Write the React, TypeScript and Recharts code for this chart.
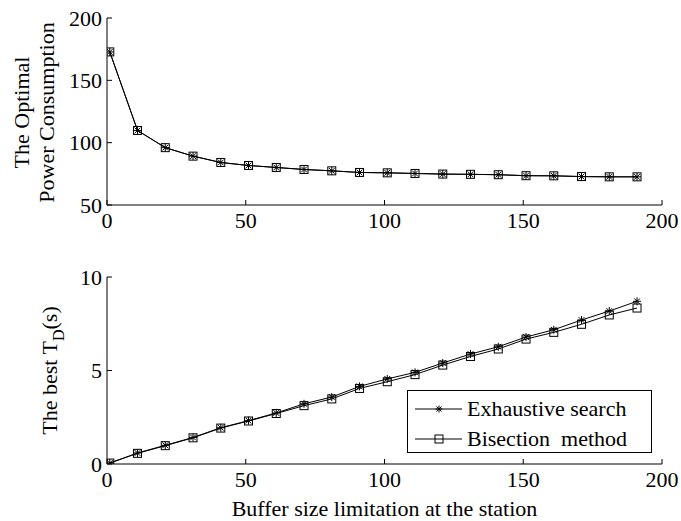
import React from 'react';
import { LineChart, Line, XAxis, YAxis, Legend, Label } from 'recharts';

// Buffer size limitation at the station (x values of the sampled points)
const bufferSizes = [1, 11, 21, 31, 41, 51, 61, 71, 81, 91, 101, 111, 121, 131, 141, 151, 161, 171, 181, 191];

// Optimal power consumption
const powerExhaustive = [172.8, 109.8, 96.0, 89.2, 84.1, 81.7, 80.1, 78.5, 77.4, 76.1, 75.8, 75.3, 74.8, 74.6, 74.3, 73.5, 73.4, 72.8, 72.6, 72.6];
const powerBisection = [172.8, 109.8, 96.0, 89.2, 84.1, 81.7, 80.1, 78.5, 77.4, 76.1, 75.8, 75.3, 74.8, 74.6, 74.3, 73.5, 73.4, 72.8, 72.6, 72.6];

// Best T_D in seconds
const delayExhaustive = [0.05, 0.59, 1.0, 1.42, 1.94, 2.32, 2.73, 3.22, 3.58, 4.15, 4.55, 4.9, 5.4, 5.88, 6.27, 6.79, 7.18, 7.7, 8.18, 8.7];
const delayBisection = [0.05, 0.57, 0.98, 1.4, 1.92, 2.3, 2.7, 3.12, 3.48, 4.04, 4.4, 4.78, 5.29, 5.75, 6.15, 6.68, 7.04, 7.47, 7.97, 8.34];

const xTicks = [0, 50, 100, 150, 200];
const powerTicks = [50, 100, 150, 200];
const delayTicks = [0, 5, 10];

const seriesNames = ['Exhaustive search', 'Bisection  method'];
const xLabel = 'Buffer size limitation at the station';

const powerData = bufferSizes.map((x, i) => ({ x, exhaustive: powerExhaustive[i], bisection: powerBisection[i] }));
const delayData = bufferSizes.map((x, i) => ({ x, exhaustive: delayExhaustive[i], bisection: delayBisection[i] }));

const FONT = '"Liberation Serif", "Times New Roman", serif';
const FS = 22;
const tickStyle = { fill: '#000', fontSize: FS, fontFamily: FONT };

const Star = ({ cx, cy, r = 4 }: { cx: number; cy: number; r?: number }) => {
  const d = r * 0.72;
  return (
    <g stroke="#000" strokeWidth={1} fill="none">
      <line x1={cx - r} y1={cy} x2={cx + r} y2={cy} />
      <line x1={cx} y1={cy - r} x2={cx} y2={cy + r} />
      <line x1={cx - d} y1={cy - d} x2={cx + d} y2={cy + d} />
      <line x1={cx - d} y1={cy + d} x2={cx + d} y2={cy - d} />
    </g>
  );
};

const Square = ({ cx, cy, s = 8 }: { cx: number; cy: number; s?: number }) => (
  <rect x={cx - s / 2} y={cy - s / 2} width={s} height={s} fill="none" stroke="#000" strokeWidth={1} />
);

const starDot = (p: any) => (
  <g key={`star-${p.index}`}>{p.cx != null && p.cy != null ? <Star cx={p.cx} cy={p.cy} /> : null}</g>
);
const squareDot = (p: any) => (
  <g key={`sq-${p.index}`}>{p.cx != null && p.cy != null ? <Square cx={p.cx} cy={p.cy} /> : null}</g>
);

const PowerYLabel = (props: any) => {
  const vb = props.viewBox || { x: 0, y: 18, width: 107, height: 187 };
  const cy = vb.y + vb.height / 2 + 1;
  const lines = [
    { text: 'The Optimal', x: 29 },
    { text: 'Power Consumption', x: 54 },
  ];
  return (
    <g>
      {lines.map((l) => (
        <text
          key={l.text}
          x={l.x}
          y={cy}
          transform={`rotate(-90, ${l.x}, ${cy})`}
          textAnchor="middle"
          fontSize={FS}
          fontFamily={FONT}
          fill="#000"
        >
          {l.text}
        </text>
      ))}
    </g>
  );
};

const DelayYLabel = (props: any) => {
  const vb = props.viewBox || { x: 0, y: 27, width: 107, height: 187 };
  const cy = vb.y + vb.height / 2;
  const x = 57;
  return (
    <text
      x={x}
      y={cy}
      transform={`rotate(-90, ${x}, ${cy})`}
      textAnchor="middle"
      fontSize={FS}
      fontFamily={FONT}
      fill="#000"
    >
      The best T
      <tspan dy={7} fontSize={16}>D</tspan>
      <tspan dy={-7}>(s)</tspan>
    </text>
  );
};

const XAxisTitle = (props: any) => {
  const vb = props.viewBox || { x: 107, y: 214, width: 555, height: 57 };
  return (
    <text
      x={vb.x + vb.width / 2}
      y={vb.y + 52}
      textAnchor="middle"
      fontSize={FS}
      fontFamily={FONT}
      fill="#000"
    >
      {xLabel}
    </text>
  );
};

const LegendBox = () => {
  const rows = [
    { name: seriesNames[0], marker: 'star' },
    { name: seriesNames[1], marker: 'square' },
  ];
  return (
    <div
      style={{
        width: 245,
        height: 63,
        boxSizing: 'border-box',
        border: '1px solid #000',
        background: '#fff',
        paddingTop: 4,
      }}
    >
      {rows.map((r) => (
        <div key={r.name} style={{ display: 'flex', alignItems: 'center', height: 28, marginBottom: 2 }}>
          <svg width={59} height={28} style={{ display: 'block', flex: 'none' }}>
            <line x1={7} y1={14} x2={54} y2={14} stroke="#000" strokeWidth={1} />
            {r.marker === 'star' ? <Star cx={31} cy={14} r={3.5} /> : <Square cx={31} cy={14} s={8} />}
          </svg>
          <span
            style={{
              fontFamily: FONT,
              fontSize: FS,
              color: '#000',
              whiteSpace: 'pre',
              lineHeight: '28px',
            }}
          >
            {r.name}
          </span>
        </div>
      ))}
    </div>
  );
};

export default function App() {
  return (
    <div style={{ position: 'absolute', left: 0, top: 0, width: 681, height: 521, background: '#fff' }}>
      <div style={{ position: 'absolute', left: 0, top: 0 }}>
        <LineChart width={681} height={250} data={powerData} margin={{ top: 18, right: 19, bottom: 0, left: 0 }}>
          <XAxis
            dataKey="x"
            type="number"
            domain={[0, 200]}
            ticks={xTicks}
            allowDataOverflow
            height={45}
            tick={tickStyle}
            tickSize={-5}
            tickMargin={12}
            axisLine={{ stroke: '#000' }}
            tickLine={{ stroke: '#000' }}
          />
          <XAxis
            xAxisId="top"
            orientation="top"
            dataKey="x"
            type="number"
            domain={[0, 200]}
            ticks={xTicks}
            allowDataOverflow
            height={0}
            tick={false}
            tickSize={-5}
            axisLine={{ stroke: '#000' }}
            tickLine={{ stroke: '#000' }}
          />
          <YAxis
            type="number"
            domain={[50, 200]}
            ticks={powerTicks}
            allowDataOverflow
            width={107}
            tick={tickStyle}
            tickSize={-5}
            tickMargin={10}
            axisLine={{ stroke: '#000' }}
            tickLine={{ stroke: '#000' }}
          >
            <Label content={PowerYLabel} />
          </YAxis>
          <YAxis
            yAxisId="right"
            orientation="right"
            type="number"
            domain={[50, 200]}
            ticks={powerTicks}
            allowDataOverflow
            width={0}
            tick={false}
            tickSize={-5}
            axisLine={{ stroke: '#000' }}
            tickLine={{ stroke: '#000' }}
          />
          <Line
            type="linear"
            dataKey="bisection"
            stroke="#000"
            strokeWidth={1}
            dot={squareDot}
            activeDot={false}
            isAnimationActive={false}
          />
          <Line
            type="linear"
            dataKey="exhaustive"
            stroke="#000"
            strokeWidth={1}
            dot={starDot}
            activeDot={false}
            isAnimationActive={false}
          />
        </LineChart>
      </div>
      <div style={{ position: 'absolute', left: 0, top: 250 }}>
        <LineChart width={681} height={271} data={delayData} margin={{ top: 27, right: 19, bottom: 0, left: 0 }}>
          <XAxis
            dataKey="x"
            type="number"
            domain={[0, 200]}
            ticks={xTicks}
            allowDataOverflow
            height={57}
            tick={tickStyle}
            tickSize={-5}
            tickMargin={12}
            axisLine={{ stroke: '#000' }}
            tickLine={{ stroke: '#000' }}
          >
            <Label content={XAxisTitle} />
          </XAxis>
          <XAxis
            xAxisId="top"
            orientation="top"
            dataKey="x"
            type="number"
            domain={[0, 200]}
            ticks={xTicks}
            allowDataOverflow
            height={0}
            tick={false}
            tickSize={-5}
            axisLine={{ stroke: '#000' }}
            tickLine={{ stroke: '#000' }}
          />
          <YAxis
            type="number"
            domain={[0, 10]}
            ticks={delayTicks}
            allowDataOverflow
            width={107}
            tick={tickStyle}
            tickSize={-5}
            tickMargin={10}
            axisLine={{ stroke: '#000' }}
            tickLine={{ stroke: '#000' }}
          >
            <Label content={DelayYLabel} />
          </YAxis>
          <YAxis
            yAxisId="right"
            orientation="right"
            type="number"
            domain={[0, 10]}
            ticks={delayTicks}
            allowDataOverflow
            width={0}
            tick={false}
            tickSize={-5}
            axisLine={{ stroke: '#000' }}
            tickLine={{ stroke: '#000' }}
          />
          <Line
            type="linear"
            dataKey="bisection"
            name={seriesNames[1]}
            stroke="#000"
            strokeWidth={1}
            dot={squareDot}
            activeDot={false}
            isAnimationActive={false}
          />
          <Line
            type="linear"
            dataKey="exhaustive"
            name={seriesNames[0]}
            stroke="#000"
            strokeWidth={1}
            dot={starDot}
            activeDot={false}
            isAnimationActive={false}
          />
          <Legend
            layout="horizontal"
            align="center"
            verticalAlign="middle"
            content={LegendBox}
            wrapperStyle={{ position: 'absolute', left: 407, top: 140, width: 245, height: 63, margin: 0 }}
          />
        </LineChart>
      </div>
    </div>
  );
}
